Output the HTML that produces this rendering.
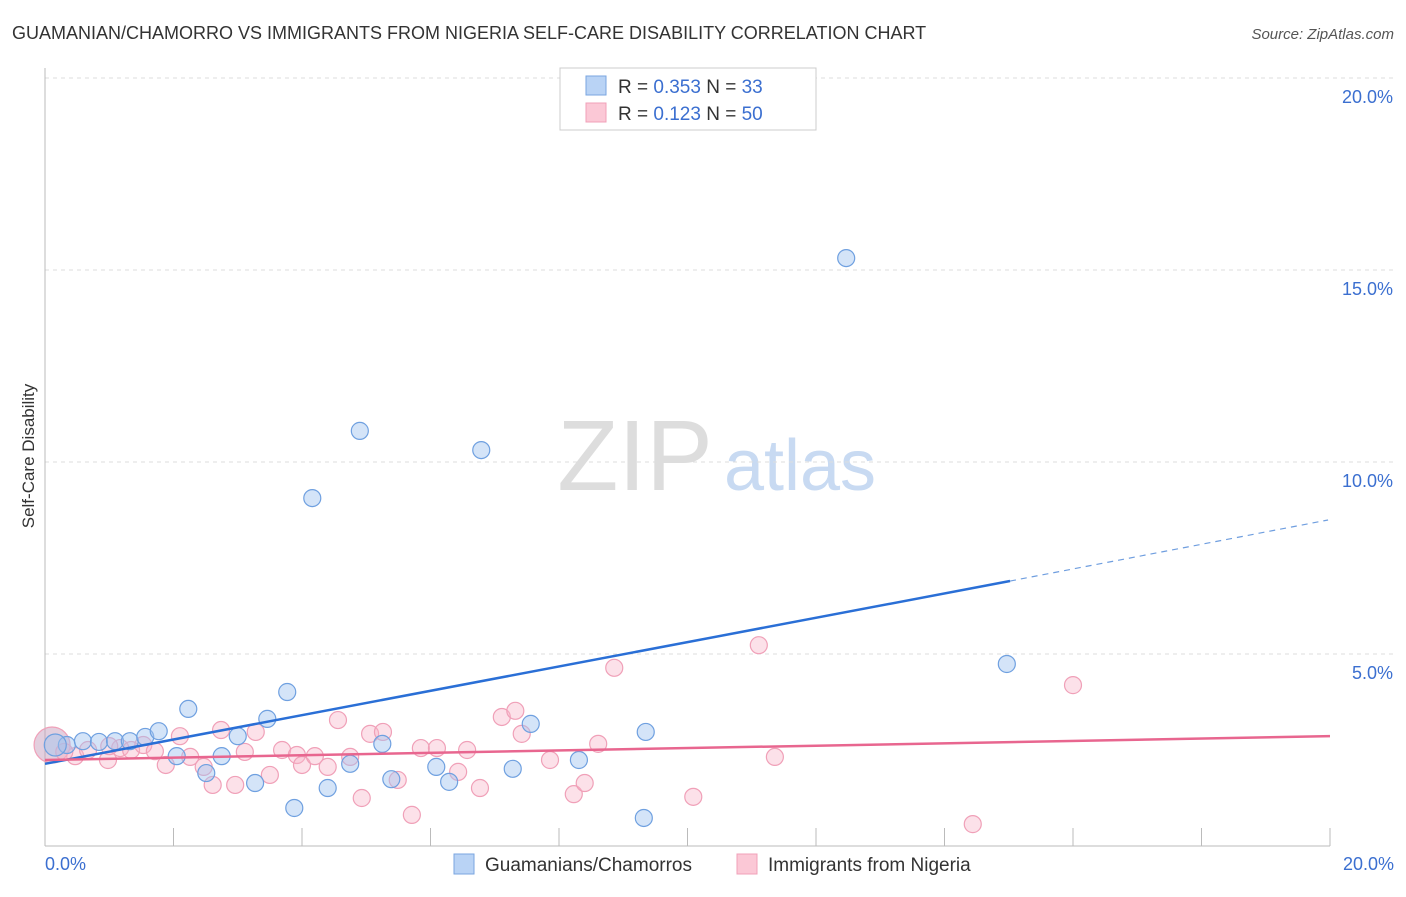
<!DOCTYPE html>
<html><head><meta charset="utf-8"><style>
body{margin:0;background:#fff;font-family:"Liberation Sans",sans-serif}
svg text{font-family:"Liberation Sans",sans-serif}
</style></head><body>
<svg id="c" width="1406" height="892">
<text x="12" y="39" font-size="18" fill="#333">GUAMANIAN/CHAMORRO VS IMMIGRANTS FROM NIGERIA SELF-CARE DISABILITY CORRELATION CHART</text>
<text x="1394" y="39" font-size="15" fill="#555" font-style="italic" text-anchor="end">Source: ZipAtlas.com</text>
<text x="635" y="490" font-size="100" fill="#ddd" font-family="Liberation Serif" text-anchor="middle">ZIP</text>
<text x="800" y="490" font-size="72" fill="#c8daf2" text-anchor="middle">atlas</text>
<g id="grid"></g><g id="axes"></g><g id="pts"></g><g id="lines"></g>
<text transform="translate(34,456) rotate(-90)" font-size="17" fill="#333" text-anchor="middle">Self-Care Disability</text>
<text x="45" y="870" font-size="18" fill="#3b6fd0">0.0%</text>
<text x="1394" y="870" font-size="18" fill="#3b6fd0" text-anchor="end">20.0%</text>
<rect x="560" y="68" width="256" height="62" fill="#fff" stroke="#ccc"/>
<rect x="586" y="76" width="20" height="19" fill="#b9d3f5" stroke="#7aa6e0"/>
<rect x="586" y="103" width="20" height="19" fill="#fbc8d6" stroke="#f0a0b8"/>
<text x="618" y="93" font-size="19" fill="#333">R = <tspan fill="#3b6fd0">0.353</tspan>   N = <tspan fill="#3b6fd0"> 33</tspan></text>
<text x="618" y="120" font-size="19" fill="#333">R = <tspan fill="#3b6fd0"> 0.123</tspan>   N = <tspan fill="#3b6fd0">50</tspan></text>
<rect x="454" y="854" width="20" height="20" fill="#b9d3f5" stroke="#7aa6e0"/>
<text x="485" y="871" font-size="19" fill="#333">Guamanians/Chamorros</text>
<rect x="737" y="854" width="20" height="20" fill="#fbc8d6" stroke="#f0a0b8"/>
<text x="768" y="871" font-size="19" fill="#333">Immigrants from Nigeria</text>
</svg>
<script>
const yTicks=[5,10,15,20];
const yTickLabels=["5.0%","10.0%","15.0%","20.0%"];
const blueX=[0.34,0.59,0.84,1.09,1.32,1.56,1.77,2.23,2.05,2.51,2.75,3.00,3.27,3.46,3.77,3.88,4.16,4.40,4.75,4.90,5.25,5.39,6.09,6.29,6.79,7.28,7.56,8.31,9.32,9.35,12.47,14.97,0.16];
const blueY=[2.63,2.73,2.71,2.73,2.73,2.84,2.99,3.57,2.34,1.90,2.34,2.86,1.64,3.31,4.01,0.99,9.06,1.51,2.14,10.81,2.66,1.74,2.06,1.67,10.31,2.01,3.18,2.24,0.73,2.97,15.31,4.74,2.63];
const pinkX=[0.11,0.47,0.67,0.98,1.17,1.34,1.53,1.71,1.88,2.10,2.26,2.47,2.61,2.74,2.96,3.11,3.28,3.50,3.69,3.92,4.00,4.20,4.40,4.56,4.75,4.93,5.06,5.26,5.49,5.71,5.85,6.10,6.43,6.57,6.77,7.11,7.32,7.42,7.86,8.23,8.40,8.61,8.86,10.09,11.11,11.36,14.44,16.00,1.00,0.30];
const pinkY=[2.63,2.34,2.50,2.24,2.55,2.50,2.63,2.47,2.11,2.86,2.32,2.06,1.59,3.02,1.59,2.45,2.97,1.85,2.50,2.37,2.11,2.34,2.06,3.28,2.32,1.25,2.92,2.97,1.72,0.81,2.55,2.55,1.93,2.50,1.51,3.36,3.52,2.92,2.24,1.35,1.64,2.66,4.64,1.28,5.23,2.32,0.57,4.19,2.60,2.45];
const blueTrend=[2.14,6.90,8.49]; // at x=0, 15.02, 19.97
const blueTrendX=[0,15.02,19.97];
const pinkTrend=[2.24,2.86];
const pinkTrendX=[0,20];
const NS="http://www.w3.org/2000/svg";
const X=v=>45+v/20*1285, Y=v=>846-v/5*192;
function mk(t,a,p){const e=document.createElementNS(NS,t);for(const k in a)e.setAttribute(k,a[k]);document.getElementById(p).appendChild(e);return e;}
yTicks.forEach((t,i)=>{
 const l=mk('line',{x1:45,x2:1394,y1:Y(t),y2:Y(t),stroke:'#ddd','stroke-dasharray':'4,4'},'grid');
 
 
 const tx=mk('text',{x:1393,y:Y(t)+25,'font-size':18,fill:'#3b6fd0','text-anchor':'end'},'grid');
 tx.textContent=yTickLabels[i];
 
 
});
const ax=mk('line',{x1:45,x2:45,y1:68,y2:846,stroke:'#bbb'},'axes');


const bx=mk('line',{x1:45,x2:1330,y1:846,y2:846,stroke:'#bbb'},'axes');


for(let i=0;i<=10;i++){const t=mk('line',{x1:X(i*2),x2:X(i*2),y1:828,y2:846,stroke:'#bbb'},'axes');
 
 }
pinkX.forEach((x,i)=>{const c=mk('circle',{cx:X(x),cy:Y(pinkY[i]),r:i==0?18:8.5,fill:i==0?'rgba(200,160,190,0.5)':'rgba(248,180,200,0.4)',stroke:'#f0a0b8','stroke-width':1.2},'pts');
 
 });
blueX.forEach((x,i)=>{const c=mk('circle',{cx:X(x),cy:Y(blueY[i]),r:i==32?11:8.5,fill:'rgba(160,196,240,0.45)',stroke:'#6fa0e0','stroke-width':1.2},'pts');
 
 });
const b1=mk('line',{x1:X(blueTrendX[0]),y1:Y(blueTrend[0]),x2:X(blueTrendX[1]),y2:Y(blueTrend[1]),stroke:'#2a6fd6','stroke-width':2.5},'lines');


const b2=mk('line',{x1:X(blueTrendX[1]),y1:Y(blueTrend[1]),x2:X(blueTrendX[2]),y2:Y(blueTrend[2]),stroke:'#6f9edf','stroke-width':1.2,'stroke-dasharray':'6,5'},'lines');


const p1=mk('line',{x1:X(pinkTrendX[0]),y1:Y(pinkTrend[0]),x2:X(pinkTrendX[1]),y2:Y(pinkTrend[1]),stroke:'#e8668f','stroke-width':2.5},'lines');


</script>
</body></html>
